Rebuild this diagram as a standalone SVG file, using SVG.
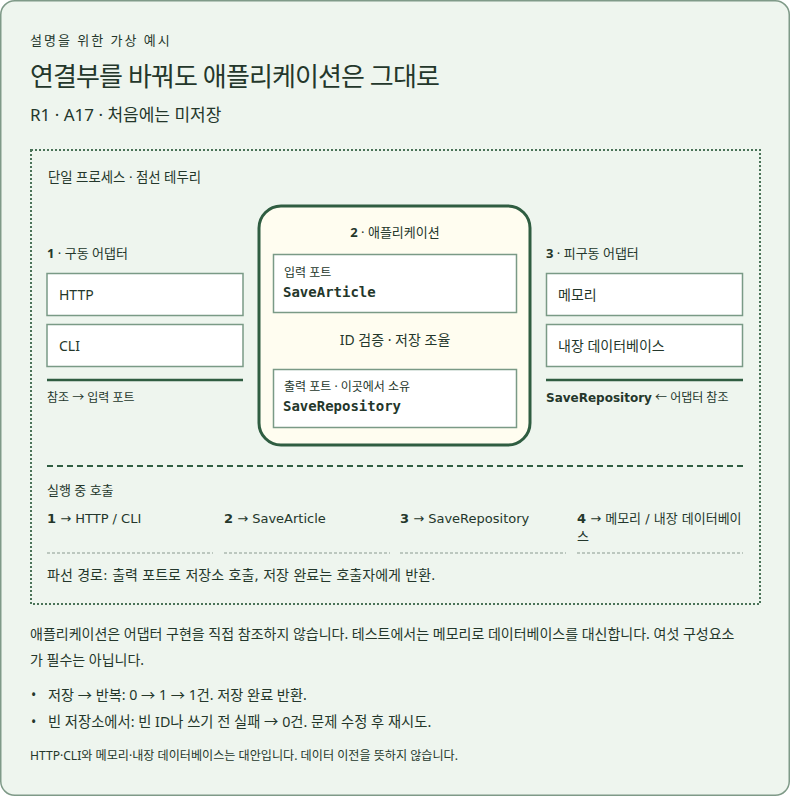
<svg xmlns="http://www.w3.org/2000/svg" width="790" height="796" viewBox="0 0 790 796">
<style>
text{font-family:"Noto Sans","Noto Sans CJK KR",sans-serif;fill:#24372b}
.dv{font-family:"DejaVu Sans","Noto Sans CJK KR",sans-serif}
.mono{font-family:"DejaVu Sans Mono","Noto Sans CJK KR",monospace;font-weight:bold}
.b{font-weight:bold}
.box{fill:#ffffff;stroke:#7a9a86;stroke-width:1.5}
.rule{stroke:#2f5d41;stroke-width:2.5}
.thin{stroke:#8a9a90;stroke-width:1;stroke-dasharray:3 2}
</style>
<rect x="0.75" y="0.75" width="788.5" height="794.5" rx="14" fill="#eef5ee" stroke="#7f9a88" stroke-width="1.5"/>
<text x="30" y="45" font-size="13" letter-spacing="2">설명을 위한 가상 예시</text>
<text x="30" y="86" font-size="26" letter-spacing="-0.9" fill="#1f3326">연결부를 바꿔도 애플리케이션은 그대로</text>
<text x="30" y="121" font-size="17">R1 · A17 · 처음에는 미저장</text>
<rect id="process" x="31" y="150" width="729" height="454" fill="none" stroke="#4a7358" stroke-width="2" stroke-dasharray="2 2"/>
<text x="48" y="182" font-size="13.4">단일 프로세스 · 점선 테두리</text>
<g id="driving">
<text x="47" y="258" font-size="13"><tspan class="b">1</tspan> · 구동 어댑터</text>
<g id="http"><rect class="box" x="47" y="273.5" width="196" height="42"/><text x="59" y="300" font-size="14">HTTP</text></g>
<g id="cli"><rect class="box" x="47" y="324.5" width="196" height="42"/><text x="59" y="351" font-size="14">CLI</text></g>
<line class="rule" x1="47" y1="380" x2="243" y2="380"/>
<text x="47" y="402" font-size="12">참조 → 입력 포트</text>
</g>
<g id="application">
<rect x="259" y="206" width="271" height="239" rx="22" fill="#fffdf0" stroke="#2f5d41" stroke-width="3"/>
<text x="395" y="237" font-size="13" text-anchor="middle"><tspan class="b">2</tspan> · 애플리케이션</text>
<g id="inport"><rect class="box" x="273.5" y="254.5" width="243" height="58"/>
<text x="284" y="277" font-size="12">입력 포트</text>
<text class="mono" x="283" y="297" font-size="14">SaveArticle</text></g>
<text x="395" y="345" font-size="14" text-anchor="middle">ID 검증 · 저장 조율</text>
<g id="outport"><rect class="box" x="273.5" y="369.5" width="243" height="58"/>
<text x="284" y="391" font-size="12">출력 포트 · 이곳에서 소유</text>
<text class="mono" x="283" y="411" font-size="14">SaveRepository</text></g>
</g>
<g id="driven">
<text x="546" y="258" font-size="13"><tspan class="b">3</tspan> · 피구동 어댑터</text>
<g id="memory"><rect class="box" x="546.5" y="273.5" width="196" height="42"/><text x="558" y="300" font-size="14">메모리</text></g>
<g id="db"><rect class="box" x="546.5" y="324.5" width="196" height="42"/><text x="558" y="351" font-size="14">내장 데이터베이스</text></g>
<line class="rule" x1="546" y1="380" x2="743" y2="380"/>
<text x="546" y="402" font-size="12"><tspan class="b dv">SaveRepository</tspan> ← 어댑터 참조</text>
</g>
<g id="connectors">
<line x1="47" y1="466" x2="743" y2="466" stroke="#2f5d41" stroke-width="2" stroke-dasharray="6 4"/>
<line class="thin" x1="47" y1="553" x2="213" y2="553"/>
<line class="thin" x1="224" y1="553" x2="390" y2="553"/>
<line class="thin" x1="400" y1="553" x2="566" y2="553"/>
<line class="thin" x1="577" y1="553" x2="743" y2="553"/>
</g>
<g id="calls">
<text x="47" y="495" font-size="13">실행 중 호출</text>
<text class="dv" x="47" y="523" font-size="13"><tspan class="b">1</tspan> → HTTP / CLI</text>
<text class="dv" x="224" y="523" font-size="13"><tspan class="b">2</tspan> → SaveArticle</text>
<text class="dv" x="400" y="523" font-size="13"><tspan class="b">3</tspan> → SaveRepository</text>
<text class="dv" x="577" y="523" font-size="13"><tspan class="b">4</tspan> → 메모리 / 내장 데이터베이</text>
<text class="dv" x="577" y="541" font-size="13">스</text>
<text class="dv" x="47" y="580" font-size="14">파선 경로: 출력 포트로 저장소 호출, 저장 완료는 호출자에게 반환.</text>
</g>
<text x="30" y="639" font-size="14">애플리케이션은 어댑터 구현을 직접 참조하지 않습니다. 테스트에서는 메모리로 데이터베이스를 대신합니다. 여섯 구성요소</text>
<text x="30" y="665" font-size="14">가 필수는 아닙니다.</text>
<text x="31" y="700" font-size="14">•</text>
<text x="48" y="700" font-size="14.2">저장 → 반복: 0 → 1 → 1건. 저장 완료 반환.</text>
<text x="31" y="727" font-size="14">•</text>
<text x="48" y="727" font-size="14.3">빈 저장소에서: 빈 ID나 쓰기 전 실패 → 0건. 문제 수정 후 재시도.</text>
<text x="30" y="760" font-size="12.1">HTTP·CLI와 메모리·내장 데이터베이스는 대안입니다. 데이터 이전을 뜻하지 않습니다.</text>
</svg>
